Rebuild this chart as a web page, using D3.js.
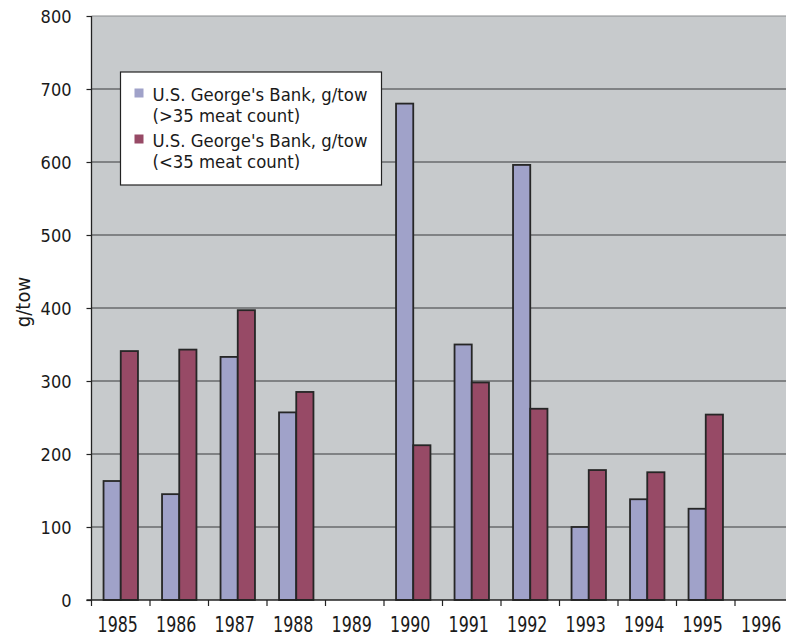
<!DOCTYPE html>
<html>
<head>
<meta charset="utf-8">
<script src="https://cdn.jsdelivr.net/npm/d3@7"></script>
<style>
  html, body { margin: 0; padding: 0; background: #ffffff; }
  svg { display: block; }
  text { font-family: "DejaVu Sans Condensed", "DejaVu Sans", sans-serif; fill: #1a1a1a; }
</style>
</head>
<body>
<svg id="chart" width="786" height="637"></svg>
<script>
// Scallop survey catch, U.S. George's Bank (g/tow)
const years = ["1985", "1986", "1987", "1988", "1989", "1990", "1991", "1992", "1993", "1994", "1995", "1996"];
const seriesNames = ["U.S. George's Bank, g/tow|(>35 meat count)", "U.S. George's Bank, g/tow|(<35 meat count)"];
const smallMeats = [163, 145, 333, 257, null, 680, 350, 596, 100, 138, 125, null];
const largeMeats = [341, 343, 397, 285, null, 212, 298, 262, 178, 175, 254, null];
const yTicks = [0, 100, 200, 300, 400, 500, 600, 700, 800];
const colors = ["#a0a2c9", "#974a66"];

const svg = d3.select("#chart");
const plotLeft = 91.5, plotTop = 16, plotBottom = 600, bandW = 58.5;
const plotRight = plotLeft + bandW * years.length;

const x = d3.scaleBand().domain(years).range([plotLeft, plotRight]).padding(0);
const x1 = d3.scaleBand().domain([0, 1]).range([0, x.bandwidth()]).paddingInner(0).paddingOuter(0.7);
const y = d3.scaleLinear().domain([0, 800]).range([plotBottom, plotTop]);

// plot background
svg.append("rect").attr("x", plotLeft).attr("y", plotTop)
  .attr("width", plotRight - plotLeft).attr("height", plotBottom - plotTop)
  .attr("fill", "#c7cacc");

// gridlines
svg.append("g").selectAll("line").data(yTicks.filter(d => d > 0)).join("line")
  .attr("x1", plotLeft).attr("x2", plotRight)
  .attr("y1", d => y(d)).attr("y2", d => y(d))
  .attr("stroke", d => d === 800 ? "#8a8c8e" : "#3a3b3c").attr("stroke-width", 1.2);

// bars
const rows = years.map((yr, i) => ({ yr, vals: [smallMeats[i], largeMeats[i]] }));
const groups = svg.append("g").selectAll("g").data(rows).join("g")
  .attr("transform", d => `translate(${x(d.yr)},0)`);
groups.selectAll("rect").data(d => d.vals.map((v, k) => ({ v, k })).filter(e => e.v != null)).join("rect")
  .attr("x", e => x1(e.k)).attr("width", x1.bandwidth())
  .attr("y", e => y(e.v)).attr("height", e => y(0) - y(e.v))
  .attr("fill", e => colors[e.k]).attr("stroke", "#262626").attr("stroke-width", 1.8);

// y axis
const yAxis = svg.append("g").attr("transform", `translate(${plotLeft},0)`)
  .call(d3.axisLeft(y).tickValues(yTicks).tickSize(5).tickPadding(15).tickFormat(d3.format("d")));
yAxis.select(".domain").attr("stroke", "#222").attr("stroke-width", 1.3).attr("d", `M0,${plotTop}V${plotBottom}`);
yAxis.selectAll(".tick line").attr("stroke", "#222").attr("stroke-width", 1.2);
yAxis.selectAll(".tick text").attr("font-size", 18).attr("fill", "#1a1a1a").attr("dy", "0.38em")
  .style("font-family", '"DejaVu Sans Condensed", sans-serif');

// x axis: ticks sit on category boundaries
const xAxis = svg.append("g").attr("transform", `translate(0,${plotBottom})`);
xAxis.append("line").attr("x1", plotLeft - 5).attr("x2", plotRight).attr("y1", 0).attr("y2", 0)
  .attr("stroke", "#222").attr("stroke-width", 1.3);
xAxis.selectAll(".xt").data(years).join("line").attr("class", "xt")
  .attr("x1", d => x(d)).attr("x2", d => x(d)).attr("y1", 0).attr("y2", 6)
  .attr("stroke", "#222").attr("stroke-width", 1.2);
xAxis.selectAll(".xl").data(years).join("text").attr("class", "xl")
  .attr("transform", d => `translate(${x(d) + x.bandwidth() / 2 - 3},32) scale(0.84,1)`)
  .attr("text-anchor", "middle").attr("font-size", 21).text(d => d);

// y axis title
svg.append("text").attr("transform", "translate(30,302) rotate(-90)")
  .attr("text-anchor", "middle").attr("font-size", 20).text("g/tow");

// legend: two-line label per entry
const lg = svg.append("g").attr("transform", "translate(120.5,72)");
lg.append("rect").attr("width", 261).attr("height", 113).attr("fill", "#ffffff")
  .attr("stroke", "#222").attr("stroke-width", 1.2);
seriesNames.forEach((name, i) => {
  const g = lg.append("g").attr("transform", `translate(0,${i * 46})`);
  g.append("rect").attr("x", 14).attr("y", 16.5).attr("width", 9).attr("height", 9).attr("fill", colors[i]);
  const label = g.append("text").attr("transform", "translate(32,29) scale(1.02,1)").attr("font-size", 18);
  name.split("|").forEach((t, j) => {
    label.append("tspan").attr("x", 0).attr("y", j * 21).text(t);
  });
});
</script>
</body>
</html>
